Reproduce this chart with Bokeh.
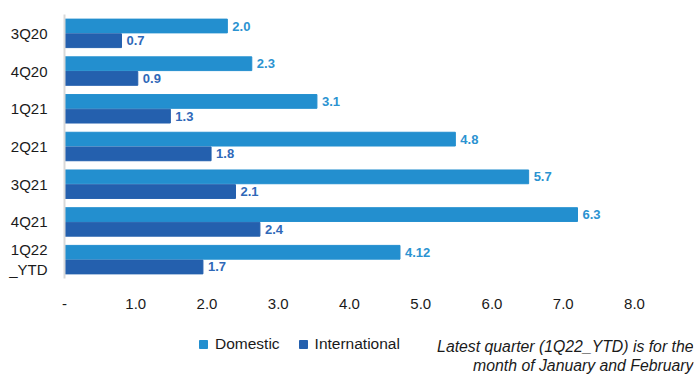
from bokeh.plotting import figure
from bokeh.layouts import column
from bokeh.models import (ColumnDataSource, FactorRange, Range1d, LinearAxis, FixedTicker,
                          Legend, LegendItem, Label)
from bokeh.transform import dodge
from bokeh.core.properties import value
from bokeh.embed import file_html
from bokeh.resources import INLINE

# ---- data ----
categories = ["3Q20", "4Q20", "1Q21", "2Q21", "3Q21", "4Q21", "1Q22\n_YTD"]
domestic = [2.0, 2.3, 3.1, 4.8, 5.7, 6.3, 4.12]
international = [0.7, 0.9, 1.3, 1.8, 2.1, 2.4, 1.7]
domestic_labels = ["2.0", "2.3", "3.1", "4.8", "5.7", "6.3", "4.12"]
international_labels = ["0.7", "0.9", "1.3", "1.8", "2.1", "2.4", "1.7"]
axis_ticks = [0, 1, 2, 3, 4, 5, 6, 7, 8]
axis_tick_labels = ["-", "1.0", "2.0", "3.0", "4.0", "5.0", "6.0", "7.0", "8.0"]
series_names = ["Domestic", "International"]
note_lines = ["Latest quarter (1Q22_YTD) is for the", "month of January and February"]

DOM_C = "#238FCF"
INT_C = "#2460AE"
TXT_C = "#1a1a1a"
FONT = "Liberation Sans"

# layout geometry (pixels)
LEFT, RIGHT_BORDER = 64, 2
W = 695
FRAME_W = W - LEFT - RIGHT_BORDER          # 629
BAR_SPAN = 570                              # pixels covered by bar value 7 / axis tick 8
bar_max = 7 * FRAME_W / BAR_SPAN
axis_max = axis_ticks[-1] * FRAME_W / BAR_SPAN

src = ColumnDataSource(dict(cat=categories, dom=domestic, intl=international,
                            dom_lbl=domestic_labels, int_lbl=international_labels))

p = figure(width=W, height=322, output_backend="svg", toolbar_location=None,
           y_range=FactorRange(factors=list(reversed(categories)), range_padding=0),
           x_range=Range1d(0, bar_max), x_axis_location=None,
           min_border_left=LEFT, min_border_right=RIGHT_BORDER,
           min_border_top=14, min_border_bottom=44)
p.extra_x_ranges = {"ax": Range1d(axis_ticks[0], axis_max)}
p.outline_line_color = None
p.xgrid.visible = False
p.ygrid.visible = False

p.hbar(y=dodge("cat", 0.195, range=p.y_range), right="dom", left=0, height=0.365,
       color=DOM_C, source=src)
p.hbar(y=dodge("cat", -0.195, range=p.y_range), right="intl", left=0, height=0.365,
       color=INT_C, source=src)

p.text(x="dom", y=dodge("cat", 0.195, range=p.y_range), text="dom_lbl", source=src,
       x_offset=5, text_baseline="middle", text_font=value(FONT), text_font_style="bold",
       text_font_size="13px", text_color="#2B93D1")
p.text(x="intl", y=dodge("cat", -0.195, range=p.y_range), text="int_lbl", source=src,
       x_offset=5, text_baseline="middle", text_font=value(FONT), text_font_style="bold",
       text_font_size="13px", text_color="#2F68B8")

# y axis
ya = p.yaxis[0]
ya.axis_line_color = "#D9D9D9"
ya.axis_line_width = 2
ya.major_tick_line_color = None
ya.minor_tick_line_color = None
ya.major_label_standoff = 11
ya.major_label_text_font = FONT
ya.major_label_text_font_size = "15px"
ya.major_label_text_color = TXT_C

# x axis (displayed scale)
xa = LinearAxis(x_range_name="ax", ticker=FixedTicker(ticks=axis_ticks),
                major_label_overrides={t: l for t, l in zip(axis_ticks, axis_tick_labels)})
xa.axis_line_color = None
xa.major_tick_line_color = None
xa.minor_tick_line_color = None
xa.major_label_standoff = 14
xa.major_label_text_font = FONT
xa.major_label_text_font_size = "15px"
xa.major_label_text_color = TXT_C
p.add_layout(xa, "below")

# ---- footer: legend + note ----
f = figure(width=W, height=52, output_backend="svg", toolbar_location=None,
           x_range=Range1d(0, 1), y_range=Range1d(0, 1),
           min_border_left=LEFT, min_border_right=RIGHT_BORDER,
           min_border_top=0, min_border_bottom=0,
           x_axis_location=None, y_axis_location=None)
f.outline_line_color = None
f.xgrid.visible = False
f.ygrid.visible = False
nan = float("nan")
dummy = ColumnDataSource(dict(y=[nan], right=[nan]))
lr_dom = f.hbar(y="y", right="right", left=0, height=0.1, color=DOM_C, source=dummy)
lr_int = f.hbar(y="y", right="right", left=0, height=0.1, color=INT_C, source=dummy)

legend = Legend(items=[LegendItem(label=series_names[0], renderers=[lr_dom], index=0),
                       LegendItem(label=series_names[1], renderers=[lr_int], index=0)],
                orientation="horizontal", location=(198 - LEFT, 21),
                glyph_width=10, glyph_height=10, label_height=10, label_standoff=7,
                spacing=18, padding=0, margin=0, border_line_color=None,
                background_fill_alpha=0,
                label_text_font=FONT, label_text_font_size="15.5px",
                label_text_color=TXT_C, label_text_baseline="middle")
f.add_layout(legend, "center")

for i, line in enumerate(note_lines):
    f.add_layout(Label(x=FRAME_W, y=28 - i * 18.5, x_units="screen", y_units="screen", text=line,
                       text_align="right", text_baseline="middle", text_font=FONT,
                       text_font_style="italic", text_font_size="15.8px", text_color=TXT_C))

layout = column(p, f, spacing=0)
open("out.html", "w").write(file_html(layout, INLINE))
